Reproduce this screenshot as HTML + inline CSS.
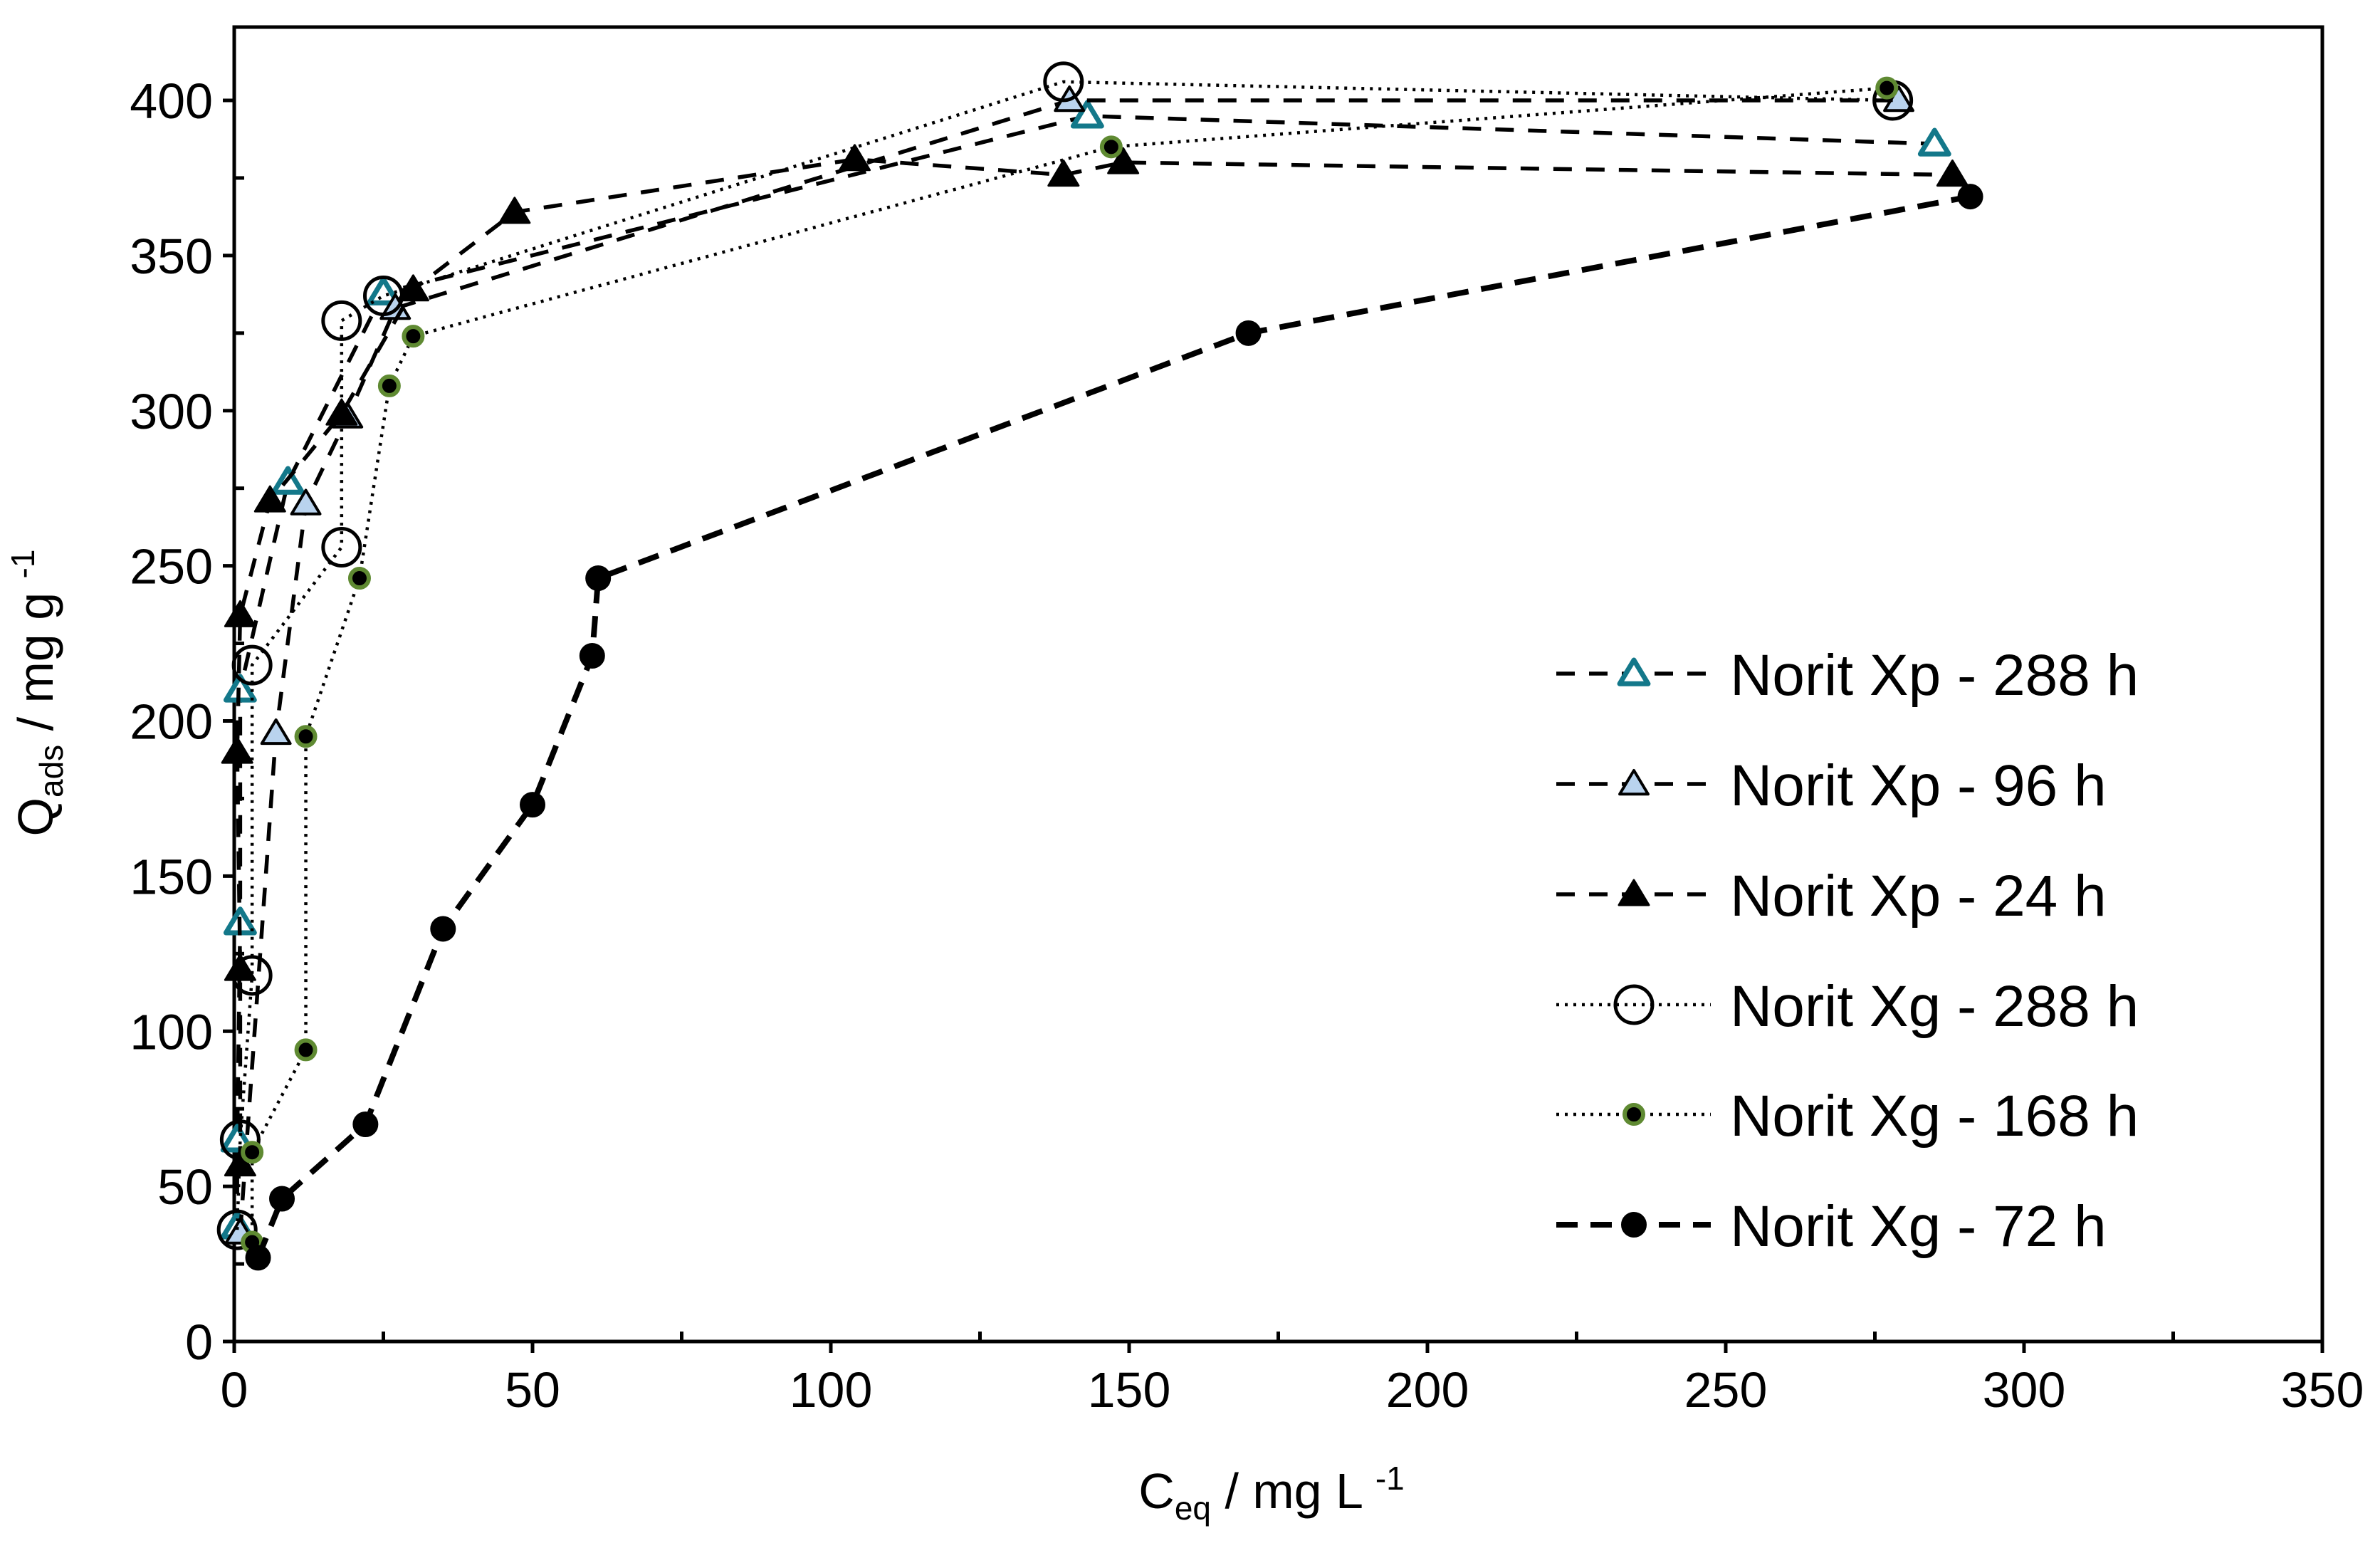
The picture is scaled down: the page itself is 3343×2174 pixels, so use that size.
<!DOCTYPE html>
<html><head><meta charset="utf-8"><style>
html,body{margin:0;padding:0;background:#fff}
svg{display:block;font-family:"Liberation Sans",Arial,sans-serif}
</style></head><body>
<svg id="chart" width="3343" height="2174" viewBox="0 0 3343 2174" xmlns="http://www.w3.org/2000/svg">
<rect x="0" y="0" width="3343" height="2174" fill="#fff"/>
<g id="grid"></g>
<g id="series"></g>
<g id="legend"></g>
<text transform="translate(74,973) rotate(-90)" text-anchor="middle" font-size="70">Q<tspan font-size="46" dy="14">ads</tspan><tspan dy="-14"> / mg  g </tspan><tspan font-size="46" dy="-26">-1</tspan></text>
<text x="1786" y="2118" text-anchor="middle" font-size="70">C<tspan font-size="46" dy="16">eq</tspan><tspan dy="-16"> / mg  L </tspan><tspan font-size="46" dy="-26">-1</tspan></text>
</svg>
<script>
const xTicks=[0,50,100,150,200,250,300,350];
const yTicks=[0,50,100,150,200,250,300,350,400];
const seriesNames=["Norit Xp - 288 h","Norit Xp - 96 h","Norit Xp - 24 h","Norit Xg - 288 h","Norit  Xg - 168 h","Norit Xg - 72 h"];
const xp288X=[0.5,0.5,1,1,9,25,143,285];
const xp288Y=[37,65,135,210,277,338,395,386];
const xp96X=[1,7,12,19,27,140,279];
const xp96Y=[35,196,270,298,333,400,400];
const xp24X=[1,1,0.5,1,6,18,30,47,104,139,149,288];
const xp24Y=[57,120,190,234,271,299,339,364,381,376,380,376];
const xg288X=[0.5,1,3,3,18,18,25,139,278];
const xg288Y=[36,65,118,218,256,329,337,406,400];
const xg168X=[3,3,12,12,21,26,30,147,277];
const xg168Y=[32,61,94,195,246,308,324,385,404];
const xg72X=[4,8,22,35,50,60,61,170,291];
const xg72Y=[27,46,70,133,173,221,246,325,369];

const X0=329,X1=3262,Y0=1884,Y1=38;
const sx=v=>X0+(X1-X0)*v/350;
const sy=v=>Y0-(Y0-141)*v/400;
const NS="http://www.w3.org/2000/svg";
function mk(tag,attrs,parent){const e=document.createElementNS(NS,tag);for(const k in attrs)e.setAttribute(k,attrs[k]);parent.appendChild(e);return e;}
const grid=document.getElementById('grid');
const frame=mk('rect',{x:X0,y:Y1,width:X1-X0,height:Y0-Y1,fill:'none',stroke:'#000','stroke-width':5},grid);


for(let v=0;v<=350;v+=25){const major=v%50===0;const t=mk('line',{x1:sx(v),x2:sx(v),y1:Y0-(major?0:14),y2:Y0+(major?16:0),stroke:'#000','stroke-width':5},grid);

}
for(let v=0;v<=400;v+=25){const major=v%50===0;const t=mk('line',{x1:X0-(major?16:0),x2:X0+(major?0:14),y1:sy(v),y2:sy(v),stroke:'#000','stroke-width':5},grid);

}
xTicks.forEach(v=>{const t=mk('text',{x:sx(v),y:Y0+92,'text-anchor':'middle','font-size':70},grid);t.textContent=v;

});
yTicks.forEach(v=>{const t=mk('text',{x:X0-30,y:sy(v)+25,'text-anchor':'end','font-size':70},grid);t.textContent=v;

});

const styles=[
 {xs:xp288X,ys:xp288Y,dash:'26 20',w:5.5,m:'tri',fill:'#fff',stroke:'#13788a',sw:7,size:19},
 {xs:xp96X,ys:xp96Y,dash:'26 20',w:5.5,m:'tri',fill:'#b9d3ee',stroke:'#000',sw:4,size:19},
 {xs:xp24X,ys:xp24Y,dash:'26 20',w:5.5,m:'tri',fill:'#000',stroke:'#000',sw:3,size:20},
 {xs:xg288X,ys:xg288Y,dash:'4 8',w:4.5,m:'circ',fill:'none',stroke:'#000',sw:5,size:26},
 {xs:xg168X,ys:xg168Y,dash:'4 8',w:4.5,m:'circ',fill:'#000',stroke:'#5f8a32',sw:6,size:13},
 {xs:xg72X,ys:xg72Y,dash:'30 18',w:8,m:'circ',fill:'#000',stroke:'#000',sw:2,size:17}
];
function marker(s,cx,cy,parent){
 if(s.m==='tri'){const r=s.size;return mk('polygon',{points:`${cx},${cy-r} ${cx+r*1.05},${cy+r*0.75} ${cx-r*1.05},${cy+r*0.75}`,fill:s.fill,stroke:s.stroke,'stroke-width':s.sw,'stroke-linejoin':'round'},parent);}
 return mk('circle',{cx:cx,cy:cy,r:s.size,fill:s.fill,stroke:s.stroke,'stroke-width':s.sw},parent);
}
const sg=document.getElementById('series');
styles.forEach((s,i)=>{
 const g=mk('g',{},sg);
 
 
 const pts=s.xs.map((x,j)=>sx(x)+','+sy(s.ys[j])).join(' ');
 const pl=mk('polyline',{points:pts,fill:'none',stroke:'#000','stroke-width':s.w,'stroke-dasharray':s.dash},g);
 
 
 s.xs.forEach((x,j)=>{const m=marker(s,sx(x),sy(s.ys[j]),g);
 
 });
});
const lg=document.getElementById('legend');
const rowY=[946,1101,1256,1411,1565,1720];
styles.forEach((s,i)=>{
 const g=mk('g',{},lg);
 
 
 mk('line',{x1:2186,x2:2403,y1:rowY[i],y2:rowY[i],stroke:'#000','stroke-width':s.w,'stroke-dasharray':s.dash},g);
 marker(s,2295,rowY[i],g);
 const t=mk('text',{x:2430,y:rowY[i]+30,'font-size':82,'xml:space':'preserve'},g);
 t.textContent=seriesNames[i];
});
</script>
</body></html>
